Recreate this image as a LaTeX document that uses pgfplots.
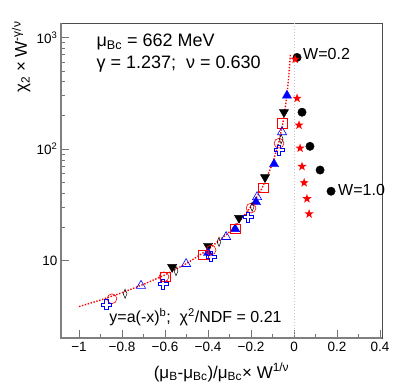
\documentclass[border=0pt]{standalone}
\usepackage{fontspec}
\setmainfont{Liberation Sans}
\usepackage{pgfplots}
\pgfplotsset{compat=1.18}

% open cross (ROOT marker 28)
\pgfdeclareplotmark{ocross}{%
  \pgfpathmoveto{\pgfqpoint{-0.33\pgfplotmarksize}{\pgfplotmarksize}}%
  \pgfpathlineto{\pgfqpoint{0.33\pgfplotmarksize}{\pgfplotmarksize}}%
  \pgfpathlineto{\pgfqpoint{0.33\pgfplotmarksize}{0.33\pgfplotmarksize}}%
  \pgfpathlineto{\pgfqpoint{\pgfplotmarksize}{0.33\pgfplotmarksize}}%
  \pgfpathlineto{\pgfqpoint{\pgfplotmarksize}{-0.33\pgfplotmarksize}}%
  \pgfpathlineto{\pgfqpoint{0.33\pgfplotmarksize}{-0.33\pgfplotmarksize}}%
  \pgfpathlineto{\pgfqpoint{0.33\pgfplotmarksize}{-\pgfplotmarksize}}%
  \pgfpathlineto{\pgfqpoint{-0.33\pgfplotmarksize}{-\pgfplotmarksize}}%
  \pgfpathlineto{\pgfqpoint{-0.33\pgfplotmarksize}{-0.33\pgfplotmarksize}}%
  \pgfpathlineto{\pgfqpoint{-\pgfplotmarksize}{-0.33\pgfplotmarksize}}%
  \pgfpathlineto{\pgfqpoint{-\pgfplotmarksize}{0.33\pgfplotmarksize}}%
  \pgfpathlineto{\pgfqpoint{-0.33\pgfplotmarksize}{0.33\pgfplotmarksize}}%
  \pgfpathclose\pgfusepathqstroke}
% full star (ROOT marker 29)
\pgfdeclareplotmark{fstar}{%
  \pgfpathmoveto{\pgfqpoint{0pt}{\pgfplotmarksize}}%
  \pgfpathlineto{\pgfqpoint{0.235\pgfplotmarksize}{0.324\pgfplotmarksize}}%
  \pgfpathlineto{\pgfqpoint{0.951\pgfplotmarksize}{0.309\pgfplotmarksize}}%
  \pgfpathlineto{\pgfqpoint{0.380\pgfplotmarksize}{-0.124\pgfplotmarksize}}%
  \pgfpathlineto{\pgfqpoint{0.588\pgfplotmarksize}{-0.809\pgfplotmarksize}}%
  \pgfpathlineto{\pgfqpoint{0pt}{-0.4\pgfplotmarksize}}%
  \pgfpathlineto{\pgfqpoint{-0.588\pgfplotmarksize}{-0.809\pgfplotmarksize}}%
  \pgfpathlineto{\pgfqpoint{-0.380\pgfplotmarksize}{-0.124\pgfplotmarksize}}%
  \pgfpathlineto{\pgfqpoint{-0.951\pgfplotmarksize}{0.309\pgfplotmarksize}}%
  \pgfpathlineto{\pgfqpoint{-0.235\pgfplotmarksize}{0.324\pgfplotmarksize}}%
  \pgfpathclose\pgfusepathqfill}

\newcommand\fs[1]{\fontsize{#1bp}{#1bp}\selectfont}

\begin{document}
\begin{tikzpicture}
\useasboundingbox (-61bp,-50bp) rectangle (346bp,338bp);
\begin{axis}[
    at={(0,0)}, anchor=south west,
    width=321bp, height=315bp, scale only axis,
    ymode=log,
    xmin=-1.084, xmax=0.409,
    ymin=2.04, ymax=1346,
    xtick={-1,-0.8,-0.6,-0.4,-0.2,0,0.2,0.4},
    xticklabels={−1,−0.8,−0.6,−0.4,−0.2,0,0.2,0.4},
    minor x tick num=1,
    ytick={10,100,1000},
    yticklabels={10,10\textsuperscript{2},10\textsuperscript{3}},
    xtick pos=bottom, ytick pos=left,
    tick align=inside,
    major tick length=8bp, minor tick length=4bp,
    every tick/.style={gray!90!black, line width=0.9bp},
    axis line style={black!70, line width=0.8bp},
    tick label style={font=\fs{13.5}},
    xticklabel style={yshift=-1bp},
    xlabel={(μ\textsubscript{B}-μ\textsubscript{Bc})/μ\textsubscript{Bc}× W\textsuperscript{1/ν}},
    ylabel={χ\textsubscript{2} × W\textsuperscript{-γ/ν}},
    xlabel style={font=\fs{17}, at={(axis description cs:0.5,-0.127)}, anchor=base},
    ylabel style={font=\fs{17}, at={(axis description cs:-0.106,1.016)}, anchor=base east, rotate=0},
    clip=false,
]
% x = 0 guide
\addplot[gray!45, dotted, line width=1bp] coordinates {(0,2.04) (0,1346)};

% black filled down triangles
\addplot[only marks, black, mark=triangle*, mark size=5.3bp, mark options={rotate=180}]
  coordinates {(-0.047,214) (-0.135,56) (-0.256,24.2) (-0.400,13.6) (-0.567,8.8)};
% blue filled triangles
\addplot[only marks, blue, mark=triangle*, mark size=5.3bp]
  coordinates {(-0.033,302) (-0.093,73.5) (-0.177,33.6) (-0.274,19.3) (-0.400,11.8)};
% red open squares
\addplot[only marks, red, mark=square, mark size=4.8bp, mark options={line width=0.6bp}]
  coordinates {(-0.056,171) (-0.144,44.9) (-0.274,19.3) (-0.423,11.3) (-0.600,7.2)};
% blue open triangles
\addplot[only marks, blue, mark=triangle, mark size=5.3bp, mark options={line width=0.6bp}]
  coordinates {(-0.056,142) (-0.172,37.3) (-0.316,16.4) (-0.502,9.4) (-0.712,6.0)};
% red open circles
\addplot[only marks, red, mark=o, mark size=4.9bp, mark options={line width=0.6bp}]
  coordinates {(-0.070,113) (-0.200,29.7) (-0.386,12.5) (-0.605,7.2) (-0.847,4.58)};
% blue open crosses
\addplot[only marks, blue, mark=ocross, mark size=5bp, mark options={line width=0.6bp}]
  coordinates {(-0.070,98) (-0.214,24.7) (-0.386,10.9) (-0.609,6.2) (-0.874,4.05)};
% black open thin diamonds
\addplot[only marks, black, mark=diamond, mark size=4.6bp, mark options={line width=0.5bp, xscale=0.55}]
  coordinates {(-0.060,123) (-0.195,30.5) (-0.349,14.8) (-0.549,8.1) (-0.786,5.08)};

% black circles, raw
\addplot[only marks, black, mark=*, mark size=4.2bp]
  coordinates {(0.014,662) (0.037,214) (0.074,106) (0.121,65) (0.172,42)};
% red stars, raw
\addplot[only marks, red, mark=fstar, mark size=4.8bp]
  coordinates {(0.005,637) (0.014,285) (0.023,164) (0.028,102) (0.037,70)
               (0.047,50) (0.060,36) (0.070,26.3)};

% fit y = a(-x)^b
\addplot[red, dash pattern=on 1.4bp off 1.6bp, line width=1.4bp] coordinates {
  (-1,3.9) (-0.9,4.46) (-0.8,5.19) (-0.7,6.16) (-0.6,7.50) (-0.5,9.47)
  (-0.4,12.6) (-0.3,18.2) (-0.25,23.0) (-0.2,30.6) (-0.15,44.2) (-0.1,74.3)
  (-0.07,117) (-0.05,180) (-0.035,285) (-0.025,438) (-0.017,718)};

% ROOT-style left/bottom axes
\draw[gray, line width=1.6bp] (rel axis cs:0,1) -- (rel axis cs:0,0) -- (rel axis cs:1,0);

\node[anchor=base west, font=\fs{18}] at (axis description cs:0.1,0.924)
  {μ\textsubscript{Bc} = 662 MeV};
\node[anchor=base west, font=\fs{18}] at (axis description cs:0.1,0.857)
  {γ = 1.237;~ ν = 0.630};
\node[anchor=base west, font=\fs{16}] at (axis description cs:0.14,0.048)
  {y=a(-x)\textsuperscript{b};~ χ\textsuperscript{2}/NDF = 0.21};
\node[anchor=base west, font=\fs{16}, inner sep=0pt] at (axis description cs:0.754,0.883) {W=0.2};
\node[anchor=base west, font=\fs{16}, inner sep=0pt] at (axis description cs:0.863,0.451) {W=1.0};
\end{axis}
\end{tikzpicture}
\end{document}
